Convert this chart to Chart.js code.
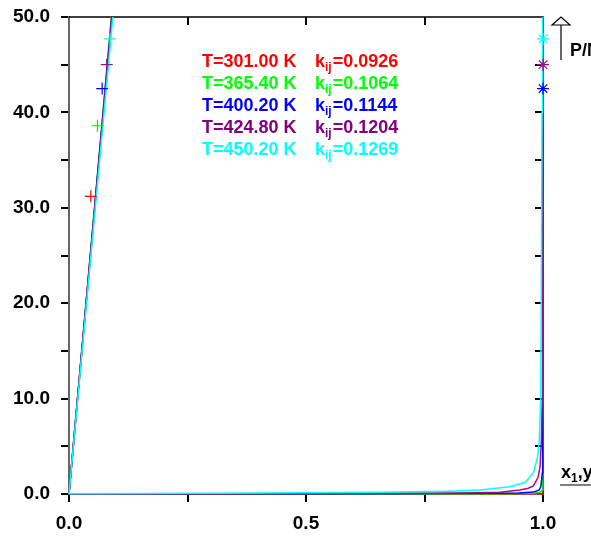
<!DOCTYPE html>
<html>
<head>
<meta charset="utf-8">
<script src="https://cdn.jsdelivr.net/npm/chart.js@4.4.1/dist/chart.umd.min.js"></script>
<style>
html, body { margin: 0; padding: 0; background: #fff; }
</style>
</head>
<body>
<canvas id="pxyChart" width="591" height="537"></canvas>
<script>
// temperatures and fitted kij (legend)
const temps = ["301.00", "365.40", "400.20", "424.80", "450.20"];
const kijs = ["0.0926", "0.1064", "0.1144", "0.1204", "0.1269"];
const lineColors = ["#ff0000", "#00ee00", "#0000ff", "#a0108a", "#00ffff"];
const textColors = ["#ff0000", "#00ff00", "#0000ff", "#800080", "#00ffff"];

// liquid branch (bubble curves), P in MPa
const liqP = [0, 10, 20, 30, 40, 50, 56];
const liqXRed = [0, 0.0178, 0.0358, 0.0538, 0.0717, 0.0895, 0.100];
const liqXGreen = [0, 0.0179, 0.0359, 0.0540, 0.0720, 0.0900, 0.101];
const liqXBlue = [0, 0.0180, 0.0361, 0.0542, 0.0723, 0.0905, 0.101];
const liqXPurple = [0, 0.0181, 0.0363, 0.0545, 0.0727, 0.0910, 0.102];
const liqXCyan = [0, 0.0185, 0.0370, 0.0555, 0.0740, 0.0925, 0.104];

// vapour branch (dew curves)
const vapXRed = [0, 0.5, 0.999, 1.0, 1.0];
const vapPRed = [0, 0, 0.02, 0.3, 56];
const vapXGreen = [0, 0.5, 0.9, 0.98, 0.995, 0.9985, 0.9995, 1.0];
const vapPGreen = [0, 0.01, 0.03, 0.07, 0.2, 0.42, 2.0, 56];
const vapXBlue = [0, 0.5, 0.9, 0.95, 0.98, 0.992, 0.9955, 0.9985, 0.9993, 1.0];
const vapPBlue = [0.005, 0.03, 0.07, 0.1, 0.2, 0.42, 0.77, 2.2, 8.0, 56];
const vapXPurple = [0, 0.3, 0.656, 0.8, 0.909, 0.951, 0.969, 0.9796, 0.9867, 0.990, 0.9937, 0.9964, 0.9985, 0.9992, 1.0];
const vapPPurple = [0.01, 0.02, 0.04, 0.09, 0.18, 0.42, 0.6, 0.84, 1.47, 1.8, 2.86, 5.3, 9.85, 20, 56];
const vapXCyan = [0, 0.318, 0.656, 0.8, 0.867, 0.93, 0.962, 0.9796, 0.9888, 0.9922, 0.9951, 0.9964, 0.998, 0.999];
const vapPCyan = [0.02, 0.07, 0.18, 0.3, 0.42, 0.77, 1.2, 2.2, 3.9, 5.7, 9.85, 20.3, 40, 56];

// experimental points
const expLiqX = [0.046, 0.060, 0.070, 0.0795, 0.0865];
const expLiqP = [31.2, 38.6, 42.5, 45.0, 47.7];
const expVapX = [null, null, 1.0, 1.0, 1.0];
const expVapP = [null, null, 42.5, 45.0, 47.7];

// axes
const xTickValues = [0, 0.25, 0.5, 0.75, 1.0];
const xTickLabels = ["0.0", "", "0.5", "", "1.0"];
const yTickValues = [0, 5, 10, 15, 20, 25, 30, 35, 40, 45, 50];
const yTickLabels = ["0.0", "", "10.0", "", "20.0", "", "30.0", "", "40.0", "", "50.0"];

const liqX = [liqXRed, liqXGreen, liqXBlue, liqXPurple, liqXCyan];
const vapX = [vapXRed, vapXGreen, vapXBlue, vapXPurple, vapXCyan];
const vapP = [vapPRed, vapPGreen, vapPBlue, vapPPurple, vapPCyan];

function pairs(xs, ys) {
const out = [];
for (let i = 0; i < xs.length; i++) {
out.push({ x: xs[i], y: ys[i] });
}
return out;
}

const datasets = [];
for (let i = 0; i < temps.length; i++) {
const lineOpts = {
borderColor: lineColors[i],
borderWidth: 1.5,
showLine: true,
pointRadius: 0,
tension: 0,
clip: { left: 4, right: 4, top: 0, bottom: 4 },
order: 10 - i
};
datasets.push(Object.assign({ label: "liq " + temps[i], data: pairs(liqX[i], liqP) }, lineOpts));
datasets.push(Object.assign({ label: "vap " + temps[i], data: pairs(vapX[i], vapP[i]) }, lineOpts));
datasets.push({
label: "exp liq " + temps[i],
data: [{ x: expLiqX[i], y: expLiqP[i] }],
pointStyle: "cross",
pointRadius: 6,
borderColor: lineColors[i],
borderWidth: 1.2,
showLine: false,
clip: false,
order: -1
});
if (expVapX[i] !== null) {
datasets.push({
label: "exp vap " + temps[i],
data: [{ x: expVapX[i], y: expVapP[i] }],
pointStyle: "star",
pointRadius: 6,
borderColor: lineColors[i],
borderWidth: 1.2,
showLine: false,
clip: false,
order: -1
});
}
}

const framePlugin = {
id: "frame",
beforeDatasetsDraw(chart) {
const ctx = chart.ctx;
const a = chart.chartArea;
const xs = chart.scales.x;
const ys = chart.scales.y;
ctx.save();
ctx.strokeStyle = "#000";
ctx.lineWidth = 1.5;
ctx.beginPath();
ctx.moveTo(a.left, a.top);
ctx.lineTo(a.right, a.top);
ctx.lineTo(a.right, a.bottom);
ctx.stroke();
ctx.lineWidth = 2;
ctx.beginPath();
for (let i = 1; i < xTickValues.length - 1; i++) {
const px = Math.round(xs.getPixelForValue(xTickValues[i]));
ctx.moveTo(px, a.top);
ctx.lineTo(px, a.top + 8);
}
for (let i = 1; i < yTickValues.length - 1; i++) {
const py = Math.round(ys.getPixelForValue(yTickValues[i]));
ctx.moveTo(a.right, py);
ctx.lineTo(a.right - 8, py);
}
ctx.stroke();
ctx.restore();
},
afterDraw(chart) {
const ctx = chart.ctx;
ctx.save();
ctx.textBaseline = "alphabetic";
// legend block
for (let i = 0; i < temps.length; i++) {
const y = 67 + i * 22;
ctx.fillStyle = textColors[i];
ctx.font = "bold 18px 'Liberation Sans', Arial, sans-serif";
ctx.fillText("T=" + temps[i] + " K", 202, y);
ctx.fillText("k", 315, y);
let x = 315 + ctx.measureText("k").width;
ctx.font = "bold 12px 'Liberation Sans', Arial, sans-serif";
ctx.fillText("ij", x, y + 4);
x += ctx.measureText("ij").width + 1;
ctx.font = "bold 18px 'Liberation Sans', Arial, sans-serif";
ctx.fillText("=" + kijs[i], x, y);
}
// axis titles
ctx.fillStyle = "#000";
ctx.font = "bold 18px 'Liberation Sans', Arial, sans-serif";
let tx = 561;
ctx.fillText("x", tx, 478);
tx += ctx.measureText("x").width;
ctx.font = "bold 12px 'Liberation Sans', Arial, sans-serif";
ctx.fillText("1", tx, 482);
tx += ctx.measureText("1").width;
ctx.font = "bold 18px 'Liberation Sans', Arial, sans-serif";
ctx.fillText(",y", tx, 478);
tx += ctx.measureText(",y").width;
ctx.font = "bold 12px 'Liberation Sans', Arial, sans-serif";
ctx.fillText("1", tx, 482);
ctx.font = "bold 18px 'Liberation Sans', Arial, sans-serif";
ctx.fillText("P/MPa", 570, 56);
ctx.strokeStyle = "#000";
ctx.lineWidth = 1.2;
ctx.beginPath();
ctx.moveTo(560, 485);
ctx.lineTo(591, 485);
ctx.moveTo(561, 60);
ctx.lineTo(561, 25);
ctx.moveTo(552, 25);
ctx.lineTo(570, 25);
ctx.lineTo(561, 17);
ctx.closePath();
ctx.stroke();
ctx.restore();
}
};

const tickFont = { family: "'Liberation Sans', Arial, sans-serif", size: 19, weight: "bold" };

new Chart(document.getElementById("pxyChart"), {
type: "scatter",
data: { datasets },
options: {
responsive: false,
animation: false,
layout: { padding: { left: 10, right: 48, top: 17, bottom: 0 } },
plugins: { legend: { display: false }, tooltip: { enabled: false } },
scales: {
x: {
type: "linear",
min: 0,
max: 1,
afterBuildTicks(scale) {
scale.ticks = xTickValues.map(v => ({ value: v }));
},
afterFit(scale) {
scale.height = 43;
scale.paddingLeft = 0;
scale.paddingRight = 0;
},
ticks: {
autoSkip: false,
maxRotation: 0,
padding: 10,
color: "#000",
font: tickFont,
callback: (v, i) => xTickLabels[i]
},
grid: { drawOnChartArea: false, tickLength: 8, color: "#000", lineWidth: 2 },
border: { color: "#000", width: 1.5 }
},
y: {
type: "linear",
min: 0,
max: 50,
afterBuildTicks(scale) {
scale.ticks = yTickValues.map(v => ({ value: v }));
},
afterFit(scale) {
scale.width = 59;
scale.paddingTop = 0;
scale.paddingBottom = 0;
},
ticks: {
autoSkip: false,
padding: 11,
color: "#000",
font: tickFont,
callback: (v, i) => yTickLabels[i]
},
grid: { drawOnChartArea: false, tickLength: 8, color: "#000", lineWidth: 2 },
border: { color: "#666", width: 2 }
}
}
},
plugins: [framePlugin]
});
</script>
</body>
</html>
